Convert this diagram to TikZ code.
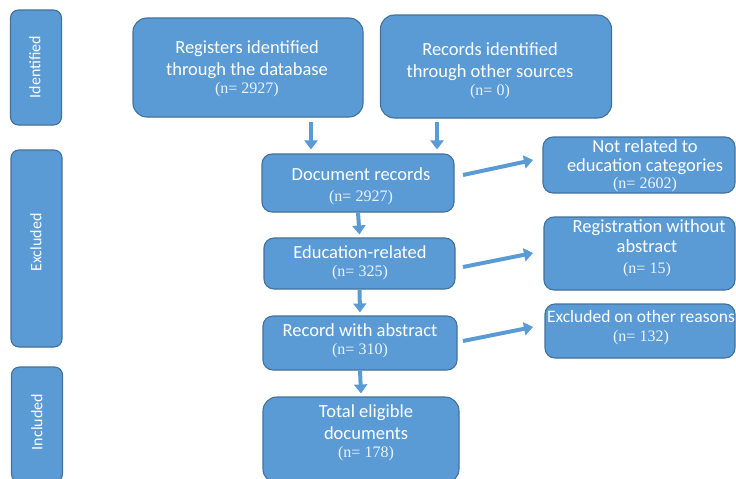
\documentclass[tikz,border=0pt]{standalone}
\usepackage{fontspec}
\setmainfont{Carlito}
\newfontfamily\timesf{Liberation Serif}
\usetikzlibrary{arrows.meta}
\definecolor{boxfill}{HTML}{5B9BD5}
\definecolor{boxline}{HTML}{41719C}
\definecolor{ntext}{HTML}{EEF3FA}
\newcommand\lab{\fontsize{18.5}{22}\selectfont}
\newcommand\nf[1]{{\timesf\fontsize{16}{18}\selectfont\color{ntext}#1}}
\begin{document}
\begin{tikzpicture}[x=1pt,y=-1pt,
  box/.style={draw=boxline, fill=boxfill, line width=1.1pt, rounded corners=#1, inner sep=0pt},
  box/.default=9pt,
  txt/.style={text=white, align=center, font=\lab, inner sep=0pt},
  side/.style={text=white, font=\fontsize{16}{19}\selectfont, rotate=90, inner sep=0pt},
  arr/.style={draw=boxfill, line width=4pt, -{Triangle[length=9pt,width=13pt]}}]
\useasboundingbox (0,0) rectangle (736,479);
\clip (0,0) rectangle (736,479);
% side labels
\node[box=8pt, minimum width=51pt, minimum height=115pt] (idb) at (36,67.5) {};
\node[side] (idt) at (35,67) {Identified};
\node[box=8pt, minimum width=51pt, minimum height=197pt] (exb) at (36.5,248.5) {};
\node[side] (ext) at (36,242.5) {Excluded};
\node[box=8pt, minimum width=51pt, minimum height=115pt] (inb) at (37,424.5) {};
\node[side] (intt) at (37,422) {Included};
% top boxes
\node[box=14pt, minimum width=230pt, minimum height=99pt] (reg) at (248,67.5) {};
\node[txt] (regt) at (247,69) {Registers identified\\through the database\\[-4pt]\nf{(n= 2927)}};
\node[box=14pt, minimum width=231pt, minimum height=103pt] (oth) at (496,66.5) {};
\node[txt] (otht) at (490,71) {Records identified\\through other sources\\[-4pt]\nf{(n= 0)}};
% middle column
\node[box=10pt, minimum width=192pt, minimum height=58pt] (doc) at (358,183) {};
\node[txt] (doct) at (361,186) {Document records\\[-1pt]\nf{(n= 2927)}};
\node[box=10pt, minimum width=191pt, minimum height=51pt] (edu) at (359.5,263.5) {};
\node[txt] (edut) at (360,263) {Education-related\\[-4pt]\nf{(n= 325)}};
\node[box=10pt, minimum width=194pt, minimum height=54pt] (abs) at (360,343) {};
\node[txt] (abst) at (360,341) {Record with abstract\\[-4pt]\nf{(n= 310)}};
\node[box=14pt, minimum width=196pt, minimum height=86pt] (tot) at (361,440) {};
\node[txt] (tott) at (366,433) {Total eligible\\documents\\[-4pt]\nf{(n= 178)}};
% right column
\node[box=10pt, minimum width=192pt, minimum height=56pt] (nr) at (639,165) {};
\node[txt] (nrt) at (645,166) {Not related to\\[-3pt]education categories\\[-5pt]\nf{(n= 2602)}};
\node[box=10pt, minimum width=191pt, minimum height=73pt] (rw) at (639.5,253.5) {};
\node[txt] (rwt) at (647,248) {\ Registration without\\[-2pt]abstract\\[-1pt]\nf{(n= 15)}};
\node[box=10pt, minimum width=190pt, minimum height=54pt] (eo) at (640,331) {};
\node[txt] (eot) at (641,328) {{\fontsize{17.5}{22}\selectfont Excluded on other reasons}\\[-3pt]\nf{(n= 132)}};
% arrows
\coordinate (a1) at (311,122);
\coordinate (a2) at (437,122);
\draw[arr] (a1) -- ([yshift=4pt]a1 |- doc.north);
\draw[arr] (a2) -- ([yshift=4pt]a2 |- doc.north);
\draw[arr] (doc.south) -- ([yshift=3pt]edu.north);
\draw[arr] (edu.south) -- ([yshift=3pt]abs.north);
\draw[arr] (abs.south) -- ([yshift=3pt]tot.north);
\coordinate (b1) at (463,175);
\coordinate (c1) at (533,160);
\coordinate (b2) at (463,267);
\coordinate (c2) at (533,253);
\coordinate (b3) at (463,341);
\coordinate (c3) at (533,327);
\draw[arr] (b1) -- (c1);
\draw[arr] (b2) -- (c2);
\draw[arr] (b3) -- (c3);
\end{tikzpicture}
\end{document}
